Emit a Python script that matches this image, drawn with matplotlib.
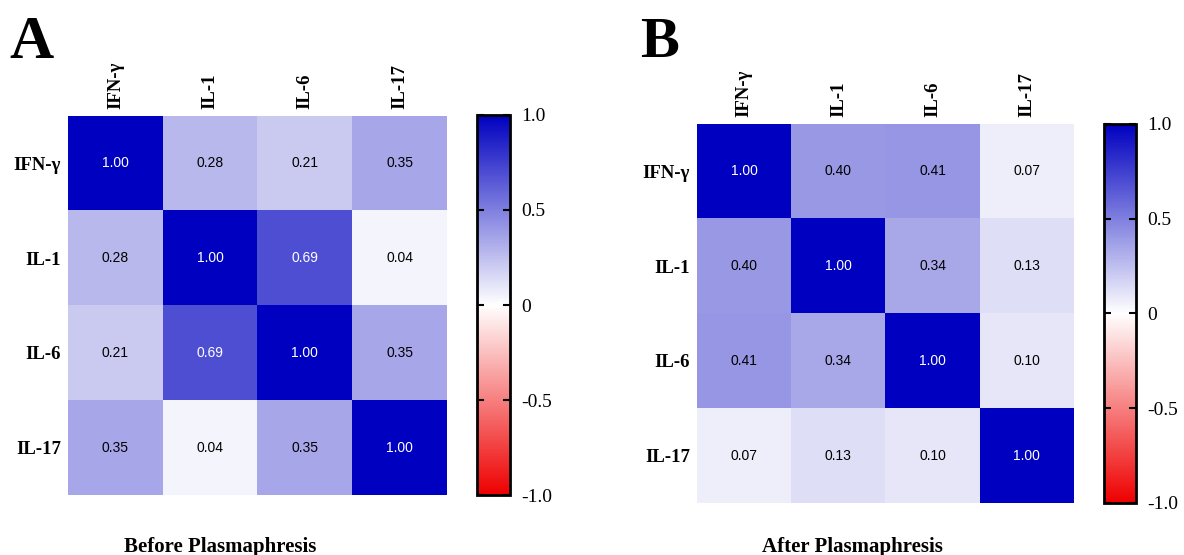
import numpy as np
import matplotlib
matplotlib.use("Agg")
import matplotlib.pyplot as plt
from matplotlib.colors import LinearSegmentedColormap

# cytokine names and correlation values
cytokines = ["IFN-γ", "IL-1", "IL-6", "IL-17"]
before_corr = [[1.00, 0.28, 0.21, 0.35],
               [0.28, 1.00, 0.69, 0.04],
               [0.21, 0.69, 1.00, 0.35],
               [0.35, 0.04, 0.35, 1.00]]
after_corr = [[1.00, 0.40, 0.41, 0.07],
              [0.40, 1.00, 0.34, 0.13],
              [0.41, 0.34, 1.00, 0.10],
              [0.07, 0.13, 0.10, 1.00]]
cbar_ticks = [-1.0, -0.5, 0, 0.5, 1.0]
cbar_labels = ["-1.0", "-0.5", "0", "0.5", "1.0"]

serif = "Liberation Serif"
cmap = LinearSegmentedColormap.from_list("rwb", ["#EE0000", "#FFFFFF", "#0000C0"])

fig = plt.figure(figsize=(11.84, 5.55), dpi=100)


def draw_panel(data, hm_rect, cb_rect):
    ax = fig.add_axes(hm_rect)
    arr = np.array(data)
    im = ax.imshow(arr, cmap=cmap, vmin=-1, vmax=1, aspect="auto")
    for i in range(arr.shape[0]):
        for j in range(arr.shape[1]):
            v = arr[i, j]
            ax.text(j, i, f"{v:.2f}", ha="center", va="center", fontsize=10,
                    family="Liberation Sans", color="white" if v > 0.6 else "black")
    ax.set_xticks(range(len(cytokines)))
    ax.set_yticks(range(len(cytokines)))
    ax.set_xticklabels(cytokines, rotation=90, family=serif, weight="bold", fontsize=13.5)
    ax.set_yticklabels(cytokines, family=serif, weight="bold", fontsize=13.5)
    ax.xaxis.tick_top()
    ax.tick_params(length=0, pad=5)
    for s in ax.spines.values():
        s.set_visible(False)

    cax = fig.add_axes(cb_rect)
    cb = fig.colorbar(im, cax=cax, ticks=cbar_ticks)
    cb.set_ticklabels(cbar_labels)
    cb.outline.set_linewidth(2)
    cax.tick_params(direction="in", left=True, right=True, length=5, width=1.5, pad=8)
    for lab in cax.get_yticklabels():
        lab.set_family(serif)
        lab.set_fontsize(14)


draw_panel(before_corr, [0.0574, 0.1081, 0.3201, 0.6829], [0.4029, 0.1081, 0.0279, 0.6847])
draw_panel(after_corr, [0.5887, 0.0937, 0.3184, 0.6829], [0.9324, 0.0937, 0.0270, 0.6829])

fig.text(0.008, 0.895, "A", family=serif, weight="bold", fontsize=44)
fig.text(0.541, 0.898, "B", family=serif, weight="bold", fontsize=42)
fig.text(0.186, 0.005, "Before Plasmaphresis", family=serif, weight="bold", fontsize=15, ha="center")
fig.text(0.720, 0.005, "After Plasmaphresis", family=serif, weight="bold", fontsize=15, ha="center")

fig.savefig("out.png", dpi=100)
